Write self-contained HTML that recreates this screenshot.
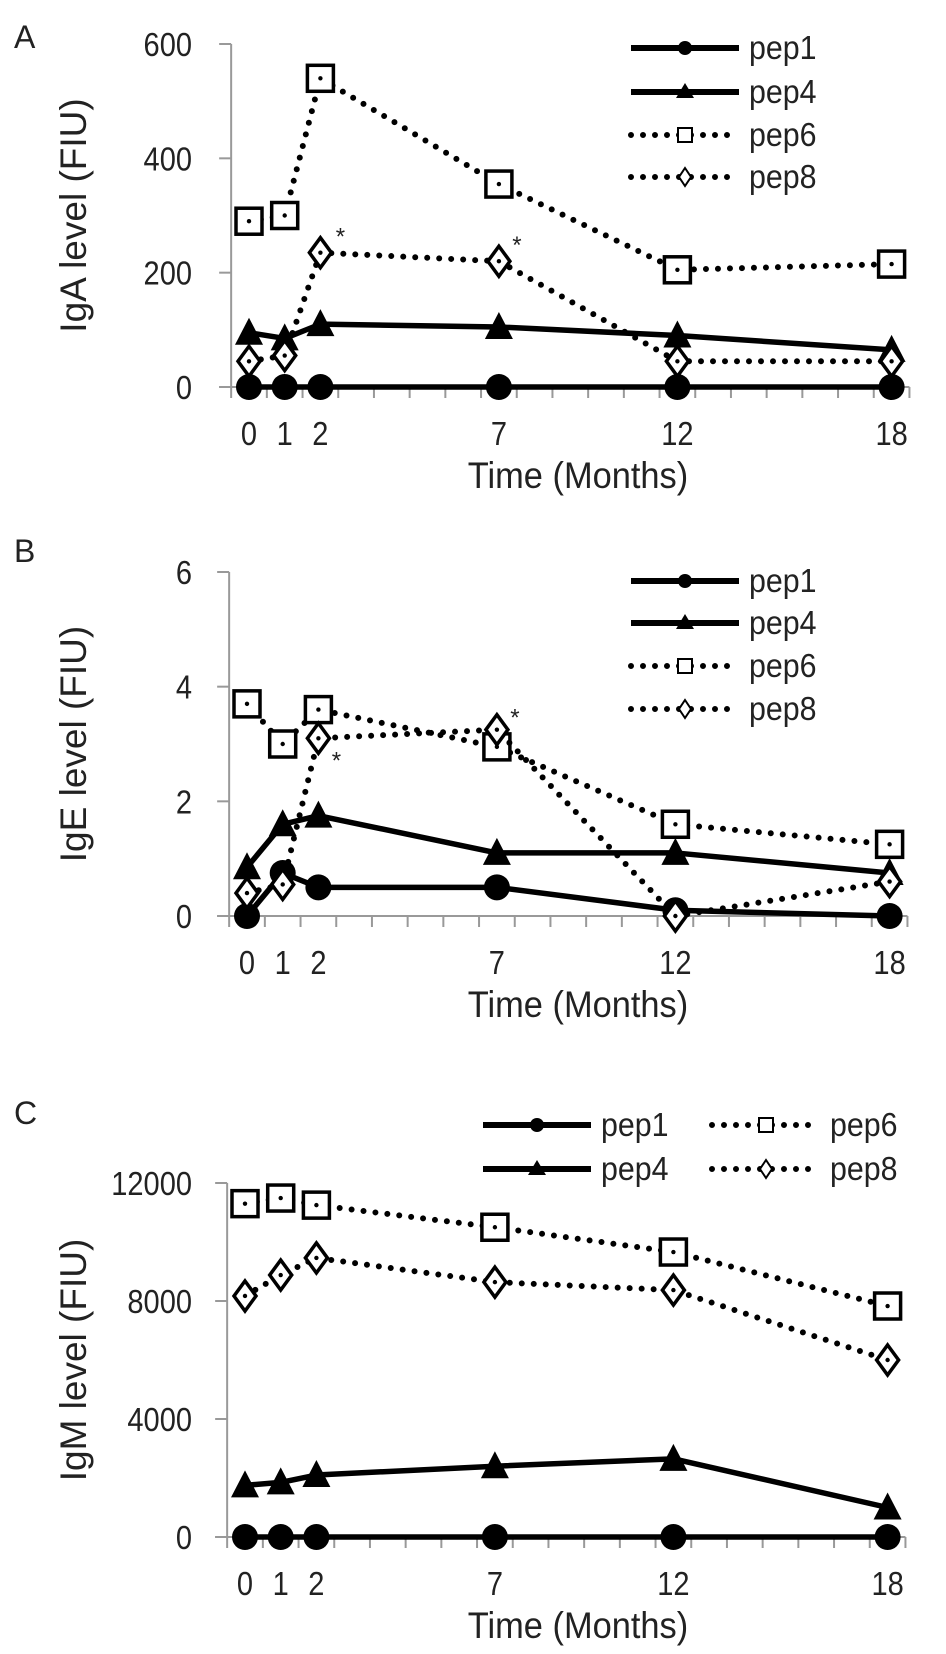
<!DOCTYPE html>
<html><head><meta charset="utf-8"><style>
html,body{margin:0;padding:0;background:#fff;}
svg{display:block;font-family:"Liberation Sans",Arial,sans-serif;}
</style></head><body>
<svg id="fig" width="946" height="1654" viewBox="0 0 946 1654"></svg>
<script>
const months = [0, 1, 2, 7, 12, 18];
const seriesNames = ["pep1", "pep4", "pep6", "pep8"];
// Panel A: IgA
const igaPep1 = [0, 0, 0, 0, 0, 0];
const igaPep4 = [95, 85, 110, 105, 90, 65];
const igaPep6 = [290, 300, 540, 355, 205, 215];
const igaPep8 = [45, 55, 235, 220, 45, 45];
const igaTicks = [0, 200, 400, 600];
// Panel B: IgE
const igePep1 = [0, 0.75, 0.5, 0.5, 0.1, 0];
const igePep4 = [0.85, 1.6, 1.75, 1.1, 1.1, 0.75];
const igePep6 = [3.7, 3.0, 3.6, 2.95, 1.6, 1.25];
const igePep8 = [0.4, 0.55, 3.1, 3.25, 0.0, 0.6];
const igeTicks = [0, 2, 4, 6];
// Panel C: IgM
const igmPep1 = [0, 0, 0, 0, 0, 0];
const igmPep4 = [1750, 1850, 2100, 2400, 2650, 1000];
const igmPep6 = [11300, 11490, 11250, 10500, 9660, 7830];
const igmPep8 = [8170, 8880, 9460, 8640, 8370, 6000];
const igmTicks = [0, 4000, 8000, 12000];

const NS = "http://www.w3.org/2000/svg";
const svg = document.getElementById("fig");
function mk(tag, attrs, parent) {
  const e = document.createElementNS(NS, tag);
  for (const k in attrs) e.setAttribute(k, attrs[k]);
  (parent || svg).appendChild(e);
  return e;
}
function txt(s, x, y, size, anchor, parent, sx) {
  const t = mk("text", {x: x, y: y, "font-size": size, "text-anchor": anchor || "middle", fill: "#222"}, parent);
  if (sx) t.setAttribute("transform", `translate(${x},${y}) scale(${sx},1) translate(${-x},${-y})`);
  t.textContent = s;
  return t;
}
function marker(kind, x, y, g) {
  let e;
  if (kind === "circle") e = mk("circle", {cx: x, cy: y, r: 13, fill: "#000"}, g);
  else if (kind === "tri") e = mk("polygon", {points: `${x},${y-15} ${x+14},${y+12} ${x-14},${y+12}`, fill: "#000"}, g);
  else if (kind === "square") {
    e = mk("rect", {x: x-13, y: y-13, width: 26, height: 26, fill: "#fff", stroke: "#000", "stroke-width": 3.5}, g);
    mk("circle", {cx: x, cy: y, r: 2.2, fill: "#000"}, g);
  } else {
    e = mk("polygon", {points: `${x},${y-15} ${x+11},${y} ${x},${y+15} ${x-11},${y}`, fill: "#fff", stroke: "#000", "stroke-width": 3.5}, g);
    mk("circle", {cx: x, cy: y, r: 2.2, fill: "#000"}, g);
  }
  
  
}
const kinds = ["circle", "tri", "square", "diamond"];
const dotted = [false, false, true, true];

function panel(cfg) {
  const g = mk("g", {}, svg);
  
  
  const X = m => cfg.x0 + m * 35.7;
  const Y = v => cfg.yb - v / cfg.ymax * (cfg.yb - cfg.yt);
  const L = txt(cfg.letter, 14, cfg.letterY, 32, "start", g);
  
  
  const ax = X(-0.5);
  const ya = mk("line", {x1: ax, y1: cfg.yt, x2: ax, y2: cfg.yb, stroke: "#999", "stroke-width": 2}, g);
  
  
  const xa = mk("line", {x1: ax - 12, y1: cfg.yb, x2: X(18.5), y2: cfg.yb, stroke: "#999", "stroke-width": 2}, g);
  
  
  for (let m = -0.5; m <= 18.5; m += 1) mk("line", {x1: X(m), y1: cfg.yb, x2: X(m), y2: cfg.yb + 11, stroke: "#999", "stroke-width": 2}, g);
  cfg.ticks.forEach(v => {
    mk("line", {x1: ax - 12, y1: Y(v), x2: ax, y2: Y(v), stroke: "#999", "stroke-width": 2}, g);
    const t = txt(String(v), 192, Y(v) + 12, 33, "end", g, 0.88);
    
    
  });
  months.forEach(m => {
    const t = txt(String(m), X(m), cfg.yb + 58, 33, "middle", g, 0.88);
    
    
  });
  const xt = txt("Time (Months)", 578, cfg.yb + 101, 37, "middle", g, 0.93);
  
  
  const yc = (cfg.yt + cfg.yb) / 2;
  const yt = txt(cfg.ytitle, 0, 0, 37, "middle", g);
  yt.setAttribute("transform", `translate(86,${yc}) rotate(-90)`);
  
  
  cfg.series.forEach((vals, i) => {
    const sg = mk("g", {}, g);
    
    
    const pts = vals.map((v, j) => X(months[j]) + "," + Y(v)).join(" ");
    const attrs = {points: pts, fill: "none", stroke: "#000"};
    if (dotted[i]) Object.assign(attrs, {"stroke-width": 6, "stroke-dasharray": "0 12", "stroke-linecap": "round"});
    else Object.assign(attrs, {"stroke-width": 5.5, "stroke-linejoin": "round"});
    const pl = mk("polyline", attrs, sg);
    
    
    vals.forEach((v, j) => marker(kinds[i], X(months[j]), Y(v), sg));
  });
  cfg.stars.forEach(s => {
    const v = cfg.series[3][s.idx];
    const a = txt("*", X(months[s.idx]) + s.dx, Y(v) + s.dy, 24, "middle", g);
    
    
  });
  cfg.legend.forEach((l, i) => {
    const lg = mk("g", {}, g);
    
    
    const la = {x1: l.x, y1: l.y, x2: l.x + 108, y2: l.y, stroke: "#000"};
    if (dotted[i]) Object.assign(la, {"stroke-width": 6, "stroke-dasharray": "0 12", "stroke-linecap": "round"});
    else la["stroke-width"] = 6;
    mk("line", la, lg);
    const cx = l.x + 54, cy = l.y;
    if (kinds[i] === "circle") mk("circle", {cx: cx, cy: cy, r: 7, fill: "#000"}, lg);
    else if (kinds[i] === "tri") mk("polygon", {points: `${cx},${cy-9} ${cx+9},${cy+6} ${cx-9},${cy+6}`, fill: "#000"}, lg);
    else if (kinds[i] === "square") mk("rect", {x: cx-7, y: cy-7, width: 14, height: 14, fill: "#fff", stroke: "#000", "stroke-width": 2}, lg);
    else mk("polygon", {points: `${cx},${cy-9} ${cx+6},${cy} ${cx},${cy+9} ${cx-6},${cy}`, fill: "#fff", stroke: "#000", "stroke-width": 2}, lg);
    txt(seriesNames[i], l.x + 118, l.y + 11, 33, "start", lg, 0.92);
  });
}

panel({name: "panel-a-iga", letter: "A", letterY: 48, x0: 249, yt: 44, yb: 387, ymax: 600,
  ticks: igaTicks, ytitle: "IgA level (FIU)",
  series: [igaPep1, igaPep4, igaPep6, igaPep8],
  stars: [{idx: 2, dx: 20, dy: -8}, {idx: 3, dx: 18, dy: -8}],
  legend: [{x: 631, y: 48}, {x: 631, y: 92}, {x: 631, y: 135}, {x: 631, y: 177}]});
panel({name: "panel-b-ige", letter: "B", letterY: 562, x0: 247, yt: 572, yb: 916, ymax: 6,
  ticks: igeTicks, ytitle: "IgE level (FIU)",
  series: [igePep1, igePep4, igePep6, igePep8],
  stars: [{idx: 2, dx: 18, dy: 30}, {idx: 3, dx: 18, dy: -4}],
  legend: [{x: 631, y: 581}, {x: 631, y: 623}, {x: 631, y: 666}, {x: 631, y: 709}]});
panel({name: "panel-c-igm", letter: "C", letterY: 1124, x0: 245, yt: 1183, yb: 1537, ymax: 12000,
  ticks: igmTicks, ytitle: "IgM level (FIU)",
  series: [igmPep1, igmPep4, igmPep6, igmPep8],
  stars: [],
  legend: [{x: 483, y: 1125}, {x: 483, y: 1169}, {x: 712, y: 1125}, {x: 712, y: 1169}]});
</script>
</body></html>
